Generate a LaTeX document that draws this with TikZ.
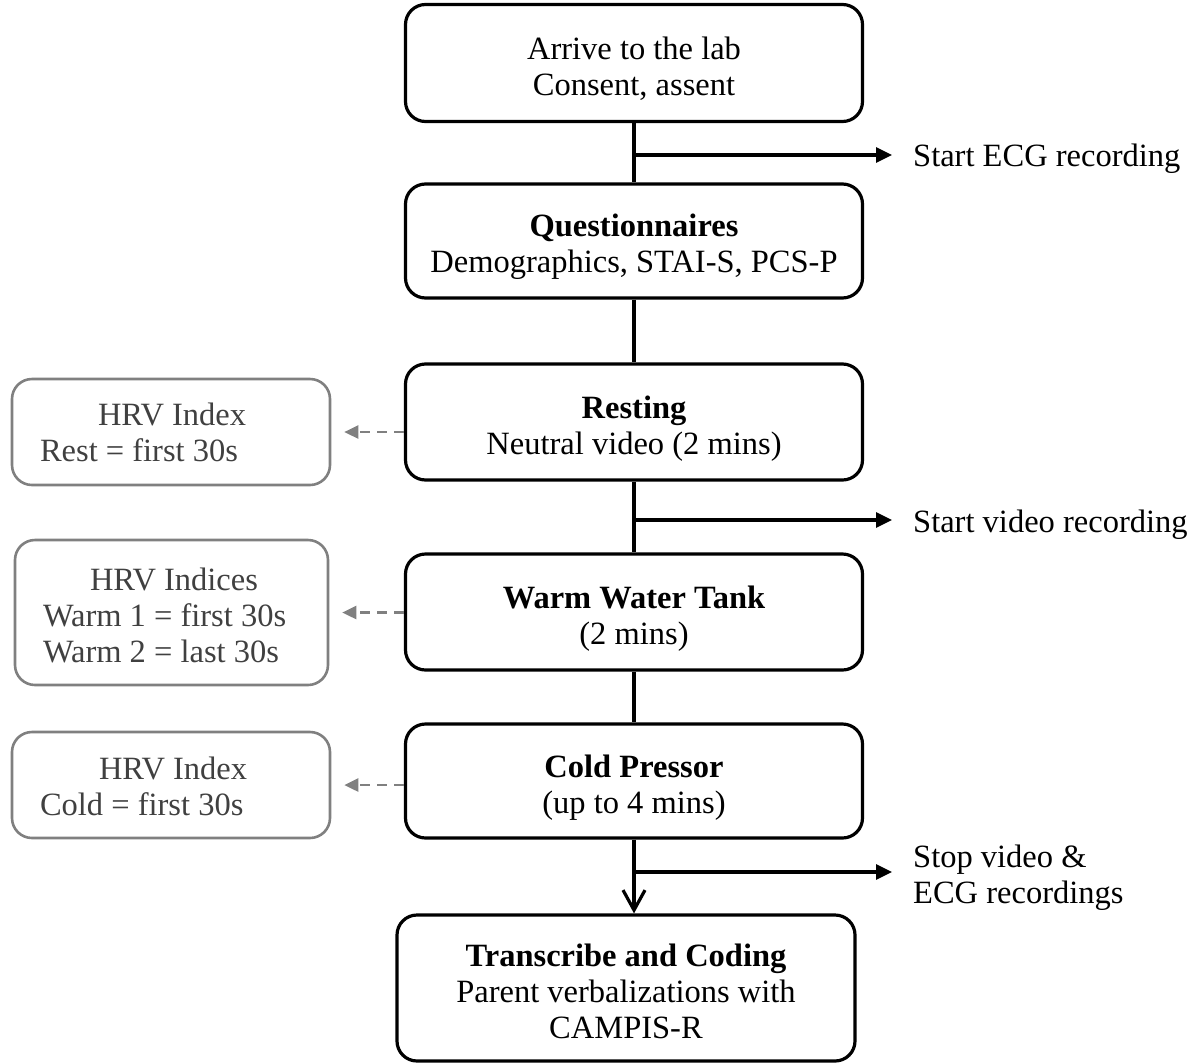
\documentclass[tikz,border=0pt]{standalone}
\usepackage{fontspec}
\setmainfont{Liberation Serif}
\usetikzlibrary{arrows.meta}
\definecolor{hrvgray}{RGB}{128,128,128}
\definecolor{hrvtext}{RGB}{64,64,64}
% extra height over the first line, pushes the text block down
\newcommand{\upline}[1]{\rule{0pt}{#1pt}}

\tikzset{
  stage/.style={draw,line width=3.2pt,rounded corners=20pt,minimum width=457pt,
    align=center,inner sep=0pt,font=\fontsize{32.5}{36}\selectfont},
  hrvbox/.style={draw=hrvgray,text=hrvtext,line width=2.6pt,rounded corners=20pt,
    align=flush left,inner xsep=28pt,inner ysep=0pt,font=\fontsize{32.5}{36}\selectfont},
  note/.style={anchor=west,align=flush left,inner xsep=21pt,inner ysep=0pt,
    font=\fontsize{32.5}{36}\selectfont},
  flow/.style={line width=3.2pt},
  outarrow/.style={line width=3.2pt,-{Triangle[length=16pt,width=15pt]}},
  hrvarrow/.style={draw=hrvgray,line width=2.6pt,dash pattern=on 10pt off 7pt,
    -{Triangle[length=14pt,width=13pt,fill=hrvgray]},shorten >=13pt}
}

\begin{document}
\begin{tikzpicture}[x=1pt,y=-1pt]
  \useasboundingbox (0,0) rectangle (1193,1063);
  % main stages
  \node[stage,minimum height=117pt] (arrive) at (634,63) {\upline{33}Arrive to the lab\\Consent, assent};
  \node[stage,minimum height=114pt] (quest) at (634,241) {\upline{35}\textbf{Questionnaires}\\Demographics, STAI-S, PCS-P};
  \node[stage,minimum height=116pt] (rest) at (634,422) {\upline{35}\textbf{Resting}\\Neutral video (2 mins)};
  \node[stage,minimum height=116pt] (warm) at (634,612) {\upline{35}\textbf{Warm Water Tank}\\(2 mins)};
  \node[stage,minimum height=114pt] (cold) at (634,781) {\upline{35}\textbf{Cold Pressor}\\(up to 4 mins)};
  \node[stage,minimum width=458pt,minimum height=146pt] (trans) at (626,988) {\upline{29}\textbf{Transcribe and Coding}\\Parent verbalizations with\\CAMPIS-R};
  % hrv boxes
  \node[hrvbox,text width=262pt,minimum height=106pt] (hrvrest) at (171,432) {\upline{24}\hspace*{58pt}HRV Index\\Rest = first 30s};
  \node[hrvbox,text width=257pt,minimum height=145pt] (hrvwarm) at (171.5,612.5) {\upline{28}\hspace*{47pt}HRV Indices\\Warm 1 = first 30s\\Warm 2 = last 30s};
  \node[hrvbox,text width=262pt,minimum height=106pt] (hrvcold) at (171,785) {\upline{26}\hspace*{59pt}HRV Index\\Cold = first 30s};
  % recording notes
  \node[note] (ecg) at (892,159) {Start ECG recording};
  \node[note] (video) at (892,525) {Start video recording};
  \node[note] (stop) at (892,878) {Stop video \&\\ECG recordings};
  \coordinate (t1) at (634,155);
  \coordinate (t2) at (634,520);
  \coordinate (t3) at (634,872);
  % trunk
  \draw[flow] (arrive) -- (quest);
  \draw[flow] (quest) -- (rest);
  \draw[flow] (rest) -- (warm);
  \draw[flow] (warm) -- (cold);
  \draw[flow,-{Straight Barb[length=20pt,width=22pt]}] (cold.south) -- (cold.south |- trans.north);
  \draw[outarrow] (t1) -- (t1 -| ecg.west);
  \draw[outarrow] (t2) -- (t2 -| video.west);
  \draw[outarrow] (t3) -- (t3 -| stop.west);
  % hrv links
  \draw[hrvarrow] (rest.west |- hrvrest.east) -- (hrvrest.east);
  \draw[hrvarrow] (warm.west |- hrvwarm.east) -- (hrvwarm.east);
  \draw[hrvarrow] (cold.west |- hrvcold.east) -- (hrvcold.east);
\end{tikzpicture}
\end{document}
